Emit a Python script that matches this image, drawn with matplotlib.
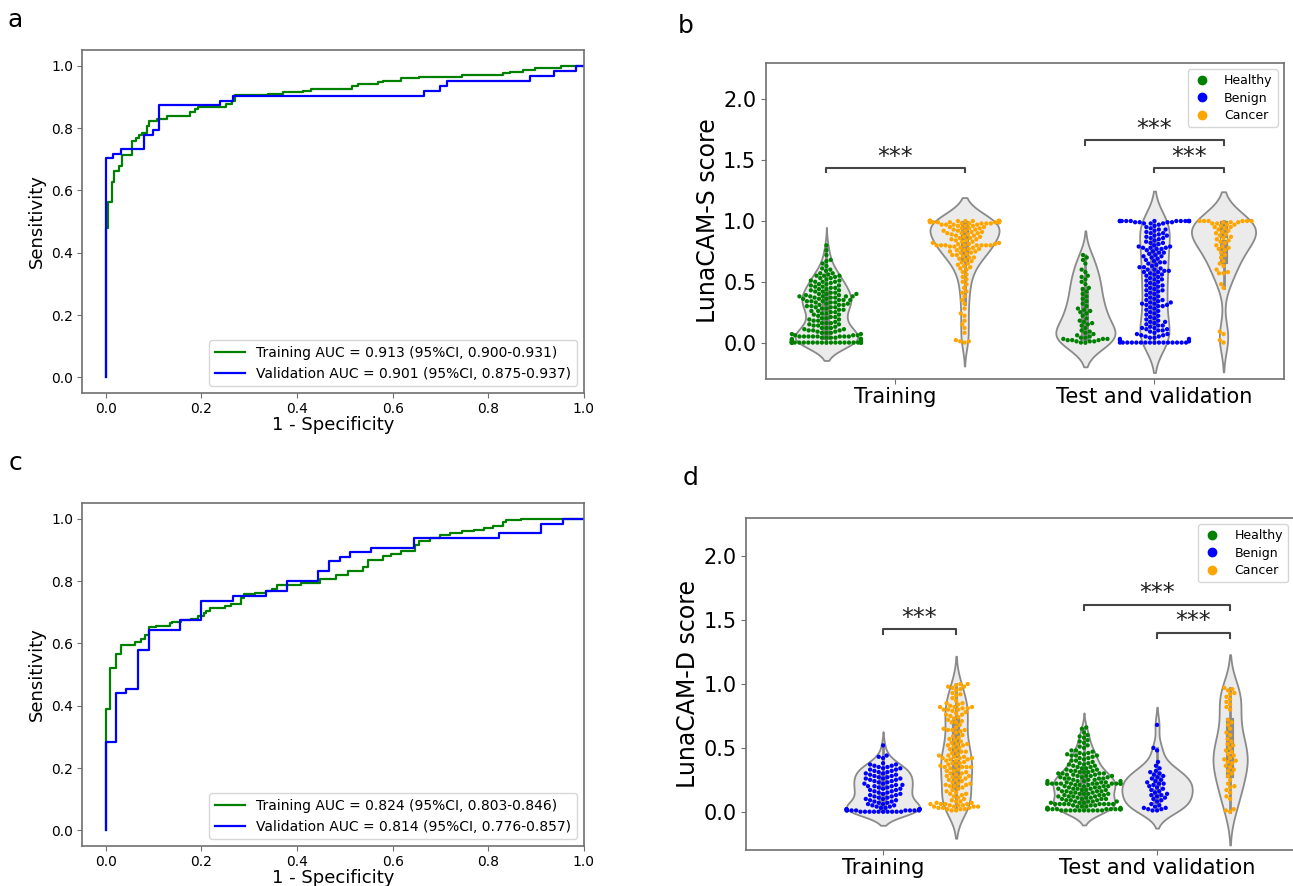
import matplotlib
matplotlib.use('Agg')
import matplotlib.pyplot as plt
import numpy as np
import pandas as pd
import seaborn as sns
from seaborn import categorical as sns_cat
from matplotlib.lines import Line2D
import warnings
warnings.filterwarnings('ignore')

# ---------------- ROC data (panel a) ----------------
a_train_fpr = [0, 0, 0.005, 0.012, 0.017, 0.028, 0.033, 0.054, 0.063, 0.070, 0.075, 0.085, 0.091, 0.106, 0.128, 0.176, 0.186, 0.193,
               0.252, 0.263, 0.271, 0.339, 0.371, 0.413, 0.430, 0.515, 0.528, 0.569, 0.580, 0.618, 0.656, 0.744, 0.831, 0.846,
               0.872, 0.897, 0.953, 1.0]
a_train_tpr = [0, 0.478, 0.563, 0.627, 0.662, 0.678, 0.714, 0.758, 0.769, 0.778, 0.785, 0.807, 0.821, 0.830, 0.840, 0.851, 0.861, 0.868,
               0.877, 0.888, 0.906, 0.909, 0.915, 0.920, 0.925, 0.936, 0.941, 0.947, 0.952, 0.959, 0.965, 0.971, 0.975, 0.981,
               0.986, 0.993, 1.0, 1.0]
a_val_fpr = [0, 0, 0.015, 0.031, 0.079, 0.098, 0.112, 0.238, 0.266, 0.665, 0.698, 0.714, 0.888, 0.937, 0.984, 1.0]
a_val_tpr = [0, 0.704, 0.718, 0.734, 0.779, 0.795, 0.875, 0.888, 0.904, 0.920, 0.936, 0.952, 0.968, 0.984, 1.0, 1.0]
a_labels = ["Training AUC = 0.913 (95%CI, 0.900-0.931)", "Validation AUC = 0.901 (95%CI, 0.875-0.937)"]

# ---------------- ROC data (panel c) ----------------
c_train_fpr = [0, 0, 0.008, 0.022, 0.031, 0.061, 0.073, 0.082, 0.091, 0.105, 0.134, 0.139, 0.158, 0.179, 0.193, 0.206, 0.210,
               0.217, 0.235, 0.250, 0.261, 0.282, 0.289, 0.312, 0.335, 0.347, 0.357, 0.409, 0.447, 0.482, 0.507, 0.538, 0.548,
               0.580, 0.597, 0.618, 0.646, 0.656, 0.677, 0.698, 0.719, 0.744, 0.771, 0.792, 0.810, 0.831, 0.838, 0.869, 1.0]
c_train_tpr = [0, 0.39, 0.522, 0.567, 0.594, 0.603, 0.613, 0.626, 0.651, 0.656, 0.664, 0.669, 0.674, 0.679, 0.688, 0.697, 0.704,
               0.712, 0.715, 0.720, 0.726, 0.747, 0.758, 0.763, 0.769, 0.774, 0.787, 0.795, 0.806, 0.820, 0.831, 0.844, 0.868,
               0.879, 0.887, 0.897, 0.916, 0.927, 0.938, 0.946, 0.954, 0.959, 0.965, 0.970, 0.978, 0.988, 0.995, 1.0, 1.0]
c_val_fpr = [0, 0, 0.022, 0.043, 0.068, 0.091, 0.156, 0.200, 0.266, 0.334, 0.378, 0.444, 0.467, 0.489, 0.510, 0.555, 0.644,
             0.822, 0.911, 0.956, 1.0]
c_val_tpr = [0, 0.283, 0.440, 0.455, 0.579, 0.643, 0.674, 0.736, 0.752, 0.767, 0.799, 0.831, 0.863, 0.876, 0.892, 0.906, 0.938,
             0.954, 0.984, 1.0, 1.0]
c_labels = ["Training AUC = 0.824 (95%CI, 0.803-0.846)", "Validation AUC = 0.814 (95%CI, 0.776-0.857)"]

# ---------------- Violin / swarm data ----------------
groups = ["Training", "Test and validation"]
hues = ["Healthy", "Benign", "Cancer"]
hue_colors = {"Healthy": "green", "Benign": "blue", "Cancer": "orange"}

b_train_healthy = [0.00] * 24 + [
    0.01, 0.01, 0.01, 0.02, 0.02, 0.03, 0.03, 0.04, 0.04, 0.04, 0.05, 0.05, 0.05, 0.05, 0.05, 0.05, 0.05, 0.05, 0.06, 0.06,
    0.07, 0.07, 0.08, 0.08, 0.09, 0.09, 0.10, 0.10, 0.11, 0.11, 0.12, 0.12, 0.13, 0.14, 0.15, 0.15, 0.16, 0.16, 0.17, 0.18,
    0.19, 0.20, 0.20, 0.21, 0.22, 0.23, 0.24, 0.25, 0.25, 0.26, 0.27, 0.28, 0.28, 0.29, 0.29, 0.30, 0.30, 0.31, 0.31, 0.32,
    0.33, 0.33, 0.34, 0.34, 0.35, 0.35, 0.36, 0.36, 0.37, 0.37, 0.38, 0.38, 0.38, 0.38, 0.39, 0.40, 0.40, 0.41, 0.42, 0.43,
    0.44, 0.44, 0.45, 0.46, 0.47, 0.48, 0.49, 0.50, 0.50, 0.51, 0.52, 0.53, 0.54, 0.55, 0.55, 0.56, 0.57, 0.59, 0.61, 0.63,
    0.65, 0.67, 0.68, 0.72, 0.76, 0.80,
    0.21, 0.23, 0.26, 0.27, 0.29, 0.31, 0.32, 0.33, 0.34, 0.35, 0.36, 0.37, 0.38, 0.39, 0.40, 0.41, 0.42, 0.43, 0.45, 0.46,
    0.47, 0.48, 0.50, 0.51, 0.53, 0.55, 0.57, 0.60, 0.02, 0.03, 0.04, 0.06, 0.08, 0.10, 0.12, 0.14, 0.16, 0.18, 0.19, 0.24]
b_train_cancer = [
    0.00, 0.01, 0.01, 0.02, 0.08, 0.12, 0.15, 0.18, 0.22, 0.24, 0.28, 0.32, 0.35, 0.38, 0.41, 0.42, 0.45, 0.48, 0.50, 0.52,
    0.54, 0.56, 0.58, 0.60, 0.61, 0.62, 0.63, 0.64, 0.65, 0.66, 0.67, 0.68, 0.69, 0.70, 0.70, 0.71, 0.72, 0.72, 0.73, 0.74,
    0.74, 0.75, 0.75, 0.76, 0.76, 0.77, 0.77, 0.78, 0.78, 0.79, 0.79, 0.80, 0.80, 0.80, 0.80, 0.80, 0.80, 0.80, 0.80, 0.81,
    0.81, 0.81, 0.82, 0.82, 0.83, 0.83, 0.84, 0.84, 0.85, 0.85, 0.86, 0.86, 0.87, 0.87, 0.88, 0.88, 0.89, 0.89, 0.90, 0.90,
    0.91, 0.91, 0.92, 0.92, 0.93, 0.93, 0.94, 0.94, 0.95, 0.95, 0.96, 0.96, 0.97, 0.97, 0.97, 0.98, 0.98, 0.98, 0.98, 0.98,
    0.99, 0.99, 0.99, 0.99, 0.99, 0.99, 0.90, 0.92, 0.94, 0.96, 0.97, 0.99] + [1.00] * 20
b_test_healthy = [
    0.00, 0.00, 0.01, 0.01, 0.01, 0.02, 0.02, 0.02, 0.03, 0.03, 0.03, 0.04, 0.04, 0.05, 0.06, 0.07, 0.08, 0.09, 0.10, 0.12,
    0.14, 0.15, 0.16, 0.17, 0.18, 0.20, 0.22, 0.24, 0.25, 0.26, 0.27, 0.28, 0.30, 0.32, 0.34, 0.36, 0.38, 0.40, 0.42, 0.44,
    0.45, 0.48, 0.50, 0.52, 0.54, 0.55, 0.58, 0.60, 0.65, 0.68, 0.70, 0.72]
b_test_benign = [0.00] * 16 + [
    0.01, 0.02, 0.03, 0.03, 0.04, 0.04, 0.05, 0.05, 0.06, 0.06, 0.07, 0.08, 0.09, 0.10, 0.10, 0.11, 0.12, 0.12, 0.13, 0.14,
    0.15, 0.16, 0.17, 0.18, 0.19, 0.20, 0.21, 0.22, 0.23, 0.25, 0.26, 0.27, 0.28, 0.29, 0.30, 0.30, 0.31, 0.31, 0.32, 0.32,
    0.33, 0.33, 0.34, 0.35, 0.36, 0.37, 0.38, 0.39, 0.40, 0.41, 0.42, 0.43, 0.44, 0.45, 0.46, 0.47, 0.48, 0.49, 0.50, 0.51,
    0.52, 0.53, 0.54, 0.55, 0.56, 0.57, 0.58, 0.58, 0.59, 0.59, 0.60, 0.60, 0.61, 0.62, 0.63, 0.64, 0.65, 0.66, 0.67, 0.68,
    0.69, 0.70, 0.71, 0.72, 0.73, 0.74, 0.75, 0.76, 0.77, 0.77, 0.78, 0.78, 0.78, 0.79, 0.79, 0.80, 0.81, 0.82, 0.83, 0.84,
    0.85, 0.86, 0.87, 0.88, 0.89, 0.90, 0.90, 0.91, 0.92, 0.93, 0.94, 0.95, 0.96, 0.97,
    0.07, 0.11, 0.14, 0.17, 0.24, 0.35, 0.43, 0.47, 0.52, 0.56, 0.62, 0.66, 0.71, 0.74, 0.82, 0.86, 0.88, 0.93] + [0.98] * 3 + [0.99] * 4 + [1.00] * 14
b_test_cancer = [
    0.00, 0.02, 0.07, 0.09, 0.45, 0.48, 0.57, 0.57, 0.58, 0.60, 0.63, 0.65, 0.67, 0.70, 0.72, 0.74, 0.76, 0.77, 0.78, 0.79,
    0.80, 0.82, 0.83, 0.84, 0.85, 0.86, 0.87, 0.88, 0.89, 0.90, 0.91, 0.92, 0.93, 0.94, 0.95, 0.95, 0.96, 0.97, 0.97, 0.98,
    0.98, 0.99, 0.99, 0.99, 1.00, 1.00, 1.00, 1.00, 1.00, 1.00]

d_train_benign = [0.00] * 10 + [0.01] * 8 + [0.02] * 5 + [
    0.03, 0.03, 0.04, 0.04, 0.05, 0.05, 0.06, 0.06, 0.07, 0.07, 0.08, 0.08, 0.09, 0.09, 0.10, 0.10, 0.11, 0.11, 0.12, 0.12,
    0.13, 0.13, 0.14, 0.14, 0.15, 0.15, 0.16, 0.16, 0.17, 0.17, 0.18, 0.18, 0.19, 0.19, 0.20, 0.20, 0.20, 0.21, 0.21, 0.22,
    0.22, 0.23, 0.23, 0.24, 0.24, 0.25, 0.25, 0.26, 0.26, 0.26, 0.27, 0.27, 0.28, 0.28, 0.29, 0.29, 0.30, 0.30, 0.31, 0.31,
    0.32, 0.32, 0.33, 0.33, 0.34, 0.34, 0.35, 0.35, 0.36, 0.36, 0.37, 0.37, 0.38, 0.42, 0.43, 0.44, 0.52]
d_train_cancer = [
    0.01, 0.01, 0.02, 0.02, 0.02, 0.03, 0.03, 0.03, 0.04, 0.04, 0.04, 0.05, 0.05, 0.05, 0.06, 0.06, 0.06, 0.07, 0.07, 0.08,
    0.09, 0.10, 0.11, 0.12, 0.13, 0.14, 0.15, 0.16, 0.17, 0.18, 0.19, 0.20, 0.20, 0.21, 0.22, 0.22, 0.23, 0.24, 0.25, 0.25,
    0.26, 0.27, 0.28, 0.29, 0.30, 0.30, 0.31, 0.32, 0.33, 0.34, 0.35, 0.35, 0.35, 0.35, 0.36, 0.37, 0.38, 0.39, 0.40, 0.40,
    0.41, 0.42, 0.42, 0.42, 0.43, 0.44, 0.45, 0.46, 0.47, 0.48, 0.49, 0.50, 0.51, 0.52, 0.53, 0.54, 0.55, 0.56, 0.57, 0.58,
    0.60, 0.62, 0.63, 0.64, 0.64, 0.65, 0.66, 0.68, 0.70, 0.71, 0.72, 0.73, 0.74, 0.75, 0.76, 0.77, 0.78, 0.79, 0.80, 0.80,
    0.81, 0.81, 0.82, 0.82, 0.83, 0.84, 0.85, 0.87, 0.89, 0.91, 0.93, 0.95, 0.96, 0.97, 0.98, 0.99, 1.00, 1.00,
    0.04, 0.06, 0.08, 0.14, 0.21, 0.27, 0.32, 0.36, 0.38, 0.41, 0.43, 0.47, 0.53, 0.59, 0.64, 0.70, 0.76, 0.80, 0.82, 0.85,
    0.92, 0.98, 0.28, 0.44, 0.52]
d_test_healthy = [0.01] * 10 + [0.02] * 12 + [
    0.03, 0.03, 0.04, 0.04, 0.05, 0.05] + [0.06] * 6 + [
    0.07, 0.07, 0.08, 0.08, 0.09, 0.09, 0.10, 0.10, 0.11, 0.11, 0.12, 0.12, 0.13, 0.13, 0.14, 0.14, 0.15, 0.15, 0.16, 0.16,
    0.17, 0.17, 0.18, 0.18, 0.19, 0.19, 0.20, 0.20, 0.21, 0.21] + [0.22] * 10 + [
    0.23, 0.23, 0.24, 0.24, 0.25, 0.25, 0.26, 0.26, 0.27, 0.27, 0.28, 0.28, 0.29, 0.29, 0.30, 0.30, 0.31, 0.31, 0.32, 0.32,
    0.33, 0.34, 0.35, 0.36, 0.37, 0.38, 0.39, 0.40, 0.41, 0.42, 0.43, 0.44, 0.44, 0.45, 0.45, 0.46, 0.47, 0.48, 0.50, 0.52,
    0.54, 0.56, 0.58, 0.60, 0.62, 0.65, 0.66,
    0.02, 0.03, 0.04, 0.05, 0.06, 0.07, 0.08, 0.09, 0.10, 0.11, 0.12, 0.13, 0.14, 0.15, 0.16, 0.17, 0.18, 0.19, 0.20, 0.21,
    0.22, 0.22, 0.23, 0.24, 0.25, 0.26, 0.27, 0.28, 0.29, 0.30, 0.31, 0.32, 0.33, 0.34, 0.35, 0.36, 0.37, 0.38, 0.40, 0.42,
    0.44, 0.46, 0.48, 0.51, 0.55, 0.59, 0.12, 0.14, 0.16, 0.18, 0.20, 0.24, 0.26, 0.28, 0.30, 0.06, 0.08, 0.10]
d_test_benign = [
    0.01, 0.01, 0.02, 0.02, 0.03, 0.03, 0.04, 0.05, 0.06, 0.08, 0.09, 0.10, 0.11, 0.12, 0.13, 0.13, 0.14, 0.15, 0.16, 0.17,
    0.18, 0.19, 0.20, 0.21, 0.22, 0.22, 0.23, 0.24, 0.25, 0.26, 0.27, 0.28, 0.29, 0.30, 0.31, 0.32, 0.34, 0.36, 0.39, 0.48,
    0.50, 0.68]
d_test_cancer = [
    0.00, 0.01, 0.02, 0.10, 0.12, 0.15, 0.17, 0.19, 0.20, 0.22, 0.25, 0.28, 0.30, 0.32, 0.33, 0.35, 0.36, 0.38, 0.39, 0.40,
    0.41, 0.42, 0.44, 0.45, 0.47, 0.48, 0.50, 0.52, 0.53, 0.55, 0.57, 0.60, 0.62, 0.65, 0.68, 0.70, 0.72, 0.80, 0.82, 0.84,
    0.86, 0.88, 0.90, 0.92, 0.93, 0.95, 0.96, 0.97]

b_data = {("Training", "Healthy"): b_train_healthy, ("Training", "Cancer"): b_train_cancer,
          ("Test and validation", "Healthy"): b_test_healthy, ("Test and validation", "Benign"): b_test_benign,
          ("Test and validation", "Cancer"): b_test_cancer}
d_data = {("Training", "Benign"): d_train_benign, ("Training", "Cancer"): d_train_cancer,
          ("Test and validation", "Healthy"): d_test_healthy, ("Test and validation", "Benign"): d_test_benign,
          ("Test and validation", "Cancer"): d_test_cancer}

# keep swarm points inside their own hue slot (like older seaborn gutters)
_orig_bs_init = sns_cat.Beeswarm.__init__


def _bs_init(self, *args, **kwargs):
    _orig_bs_init(self, *args, **kwargs)
    self.width = self.width / len(hues)


sns_cat.Beeswarm.__init__ = _bs_init

SPINE = '#707070'

fig = plt.figure(figsize=(12.93, 8.86), dpi=100)
axA = fig.add_axes([0.0634, 0.5564, 0.3882, 0.3871])
axC = fig.add_axes([0.0634, 0.0451, 0.3882, 0.3871])
axB = fig.add_axes([0.5924, 0.5722, 0.4006, 0.3567])
axD = fig.add_axes([0.5770, 0.0406, 0.4238, 0.3747])


def style_spines(ax):
    for s in ax.spines.values():
        s.set_color(SPINE)
        s.set_linewidth(1.2)
    ax.tick_params(color=SPINE)


def roc(ax, trx, tr_y, vax, va_y, labels):
    ax.plot(trx, tr_y, drawstyle='steps-post', color='green', lw=1.6, label=labels[0])
    ax.plot(vax, va_y, drawstyle='steps-post', color='blue', lw=1.6, label=labels[1])
    ax.set_xlim(-0.05, 1.0)
    ax.set_ylim(-0.05, 1.05)
    ax.set_xticks([0, 0.2, 0.4, 0.6, 0.8, 1.0])
    ax.set_yticks([0, 0.2, 0.4, 0.6, 0.8, 1.0])
    ax.tick_params(labelsize=10, pad=3)
    ax.set_xlabel('1 - Specificity', fontsize=13, labelpad=0)
    ax.set_ylabel('Sensitivity', fontsize=13)
    ax.legend(loc='lower right', fontsize=10, handlelength=2.2)
    style_spines(ax)


roc(axA, a_train_fpr, a_train_tpr, a_val_fpr, a_val_tpr, a_labels)
roc(axC, c_train_fpr, c_train_tpr, c_val_fpr, c_val_tpr, c_labels)


def violin(ax, data, ylabel):
    rows = []
    for (g, lab), vals in data.items():
        for v in vals:
            rows.append((g, lab, v))
    df = pd.DataFrame(rows, columns=['group', 'label', 'score'])
    sns.violinplot(data=df, x='group', y='score', hue='label', order=groups, hue_order=hues,
                   palette={h: '#ebebeb' for h in hues}, linecolor='#8a8a8a', linewidth=1.3,
                   inner='box', dodge=True, common_norm=True, legend=False, ax=ax)
    sns.swarmplot(data=df, x='group', y='score', hue='label', order=groups, hue_order=hues,
                  palette=hue_colors, dodge=True, size=3.1, legend=False, ax=ax)
    ax.set_xlim(-0.5, 1.5)
    ax.set_ylim(-0.3, 2.3)
    ax.set_yticks([0, 0.5, 1.0, 1.5, 2.0])
    ax.tick_params(labelsize=15)
    ax.tick_params(axis='x', pad=2)
    ax.set_xlabel('')
    ax.set_ylabel(ylabel, fontsize=17, labelpad=2)
    handles = [Line2D([], [], marker='o', ls='', color=hue_colors[h], markersize=6, label=h) for h in hues]
    ax.legend(handles=handles, loc='upper right', fontsize=9, handletextpad=1.0, handlelength=1.5,
              labelspacing=0.35, borderpad=0.4)
    style_spines(ax)


def bracket(ax, x1, x2, y, text_y):
    ax.plot([x1, x1, x2, x2], [y - 0.04, y, y, y - 0.04], color='#444444', lw=1.5)
    ax.text((x1 + x2) / 2, text_y, '***', ha='center', va='center', fontsize=17, color='#222222')


off = 0.8 / 3
violin(axB, b_data, 'LunaCAM-S score')
bracket(axB, -off, off, 1.44, 1.53)
bracket(axB, 1 - off, 1 + off, 1.664, 1.755)
bracket(axB, 1.0, 1 + off, 1.44, 1.53)

violin(axD, d_data, 'LunaCAM-D score')
bracket(axD, 0.0, off, 1.43, 1.52)
bracket(axD, 1 - off, 1 + off, 1.62, 1.71)
bracket(axD, 1.0, 1 + off, 1.40, 1.49)

for lab, x, y in [('a', 15, 20), ('b', 686, 26), ('c', 15, 463), ('d', 691, 478)]:
    fig.text(x / 1293, 1 - y / 886, lab, fontsize=18, ha='center', va='center')

fig.savefig('out.png', dpi=100)
